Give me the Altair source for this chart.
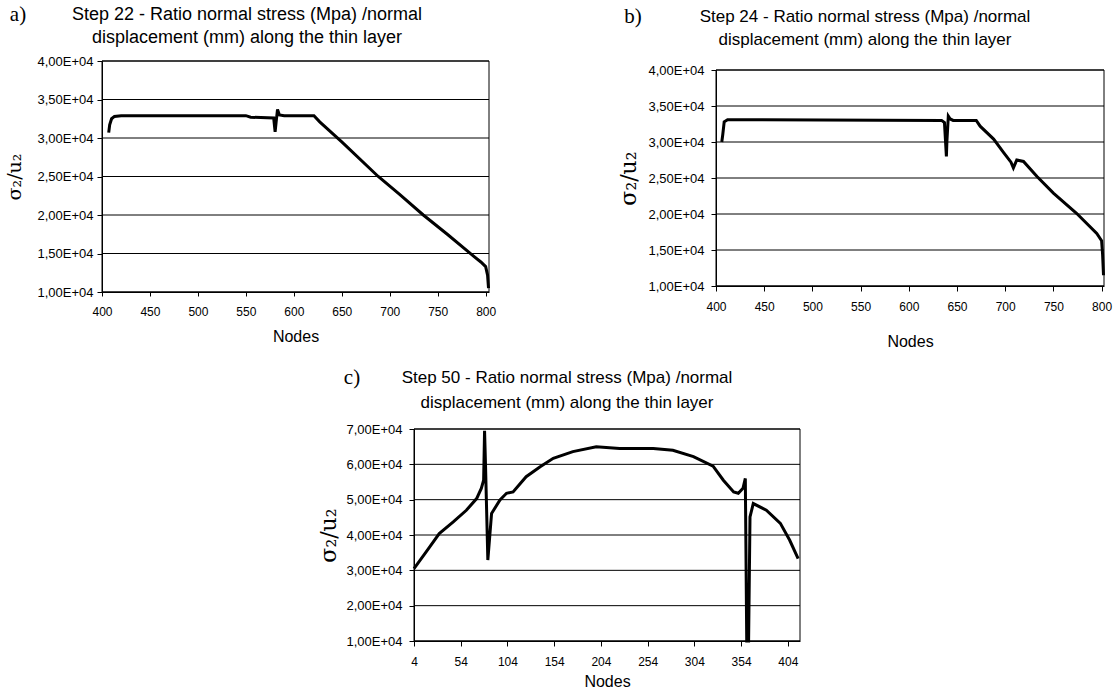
import altair as alt
import pandas as pd

# ---------------- data ----------------
a_nodes = [407, 408, 410, 413, 420, 550, 555, 579, 580.5, 581.5, 583, 585, 590, 621, 627,
           650, 688, 710, 735, 760, 788, 795, 800, 802, 803]
a_vals = [30700, 31700, 32500, 32800, 32900, 32900, 32700, 32600, 30800, 32000, 33700, 33000,
          32900, 32900, 32100, 29500, 25000, 22700, 20000, 17500, 14600, 13900, 13300, 12200, 10500]

b_nodes = [406, 407, 408.5, 412, 420, 634, 637, 639, 639.5, 641, 643, 646, 670, 674, 688, 698,
           706, 708.5, 712, 719, 733, 750, 774, 795, 800, 801, 802]
b_vals = [30000, 31000, 32800, 33100, 33100, 33000, 32700, 28000, 30000, 33600, 33200, 33000,
          33000, 32200, 30400, 28600, 27200, 26400, 27500, 27300, 25200, 22900, 20100, 17300,
          16300, 14500, 11500]

c_nodes = [4, 17, 31, 46, 60, 71, 76, 78.5, 79.5, 80.5, 83, 87, 96, 103, 110, 124, 139, 153,
           174, 199, 224, 260, 281, 303, 324, 335, 346, 351, 356, 358.5, 360, 362, 363.5, 367,
           381, 396, 406, 415]
c_vals = [30500, 35200, 40400, 43700, 47000, 50300, 53200, 55500, 69500, 60000, 32900, 46100,
          49900, 51800, 52200, 56500, 59300, 61700, 63600, 65000, 64500, 64500, 64000, 62200,
          59500, 55500, 52200, 51800, 53200, 56000, 10000, 10000, 45100, 48900, 47000, 43300,
          38500, 33300]

ab_xdomain = [400, 803.5]
b_xdomain = [400, 802.5]
c_xdomain = [4, 417]
ab_ydomain = [10000, 40000]
c_ydomain = [10000, 70000]
ab_xticks = [400, 450, 500, 550, 600, 650, 700, 750, 800]
c_xticks = [4, 54, 104, 154, 204, 254, 304, 354, 404]
ab_yticks = [10000, 15000, 20000, 25000, 30000, 35000, 40000]
c_yticks = [10000, 20000, 30000, 40000, 50000, 60000, 70000]

titles = {
    "a": ["Step 22 -  Ratio normal stress (Mpa) /normal", "displacement (mm) along the thin layer"],
    "b": ["Step 24 - Ratio normal stress (Mpa) /normal", "displacement (mm)  along the thin layer"],
    "c": ["Step 50 - Ratio normal stress (Mpa) /normal", "displacement (mm)  along the thin layer"],
}
letters = {"a": "a)", "b": "b)", "c": "c)"}

W, H = 1115, 696
SANS = "Liberation Sans"
SERIF = "DejaVu Serif"
YLAB = "replace(format(datum.value/10000,'.2f'),'.',',')+'E+04'"


def text_at(txt, x, y, size, font=SANS):
    return alt.Chart(pd.DataFrame({"t": [txt]})).mark_text(
        font=font, fontSize=size, align="center", baseline="middle", color="black"
    ).encode(text="t:N", x=alt.value(x), y=alt.value(y))


def panel(nodes, vals, xdom, xrange, ydom, yrange, xticks, yticks,
          y_pad, y_tfs, y_tpad, x_tick, x_pad, x_lfs, x_tpad):
    xs = alt.Scale(domain=xdom, range=xrange, nice=False, zero=False)
    ys = alt.Scale(domain=ydom, range=yrange, nice=False, zero=False)
    xaxis = alt.Axis(values=xticks, title="Nodes", grid=False, orient="bottom",
                     offset=-(H - yrange[0]), tickSize=x_tick,
                     labelPadding=x_pad, labelFontSize=x_lfs, labelFont=SANS,
                     labelFlush=False, labelOverlap=False,
                     titleFont=SANS, titleFontSize=16, titleFontWeight="normal",
                     titlePadding=x_tpad, format="d")
    yaxis = alt.Axis(values=yticks, title="σ₂/u₂", grid=False, orient="left",
                     offset=-xrange[0], tickSize=5,
                     labelPadding=y_pad, labelFontSize=13, labelFont=SANS,
                     labelFlush=False, labelOverlap=False, labelExpr=YLAB,
                     titleFont=SERIF, titleFontSize=y_tfs, titleFontWeight="normal",
                     titlePadding=y_tpad)
    df = pd.DataFrame({"node": nodes, "val": vals})
    grid = alt.Chart(pd.DataFrame({"v": yticks})).mark_rule(color="black", strokeWidth=1).encode(
        y=alt.Y("v:Q", scale=ys, axis=yaxis),
        x=alt.XDatum(xdom[0], type="quantitative", scale=xs, axis=xaxis),
        x2=alt.X2Datum(xdom[1]),
    )
    frame = alt.Chart(pd.DataFrame({"v": [0]})).mark_rect(
        fillOpacity=0, stroke="black", strokeWidth=1
    ).encode(
        x=alt.XDatum(xdom[0], type="quantitative", scale=xs, axis=xaxis),
        x2=alt.X2Datum(xdom[1]),
        y=alt.YDatum(ydom[0], type="quantitative", scale=ys, axis=yaxis),
        y2=alt.Y2Datum(ydom[1]),
    )
    line = alt.Chart(df).mark_line(color="black", strokeWidth=3).encode(
        x=alt.X("node:Q", scale=xs, axis=xaxis),
        y=alt.Y("val:Q", scale=ys, axis=yaxis),
    )
    return alt.layer(grid, frame, line)


pa = panel(a_nodes, a_vals, ab_xdomain, [102, 489], ab_ydomain, [292, 61], ab_xticks, ab_yticks,
           4, 19, 12, 4, 10, 12, 11)
pb = panel(b_nodes, b_vals, b_xdomain, [716, 1104], ab_ydomain, [286, 70], ab_xticks, ab_yticks,
           7, 22, 7, 5, 10, 12, 21)
pc = panel(c_nodes, c_vals, c_xdomain, [414, 800], c_ydomain, [641, 429], c_xticks, c_yticks,
           7, 22, 5, 5, 10, 12, 6)

texts = [
    text_at(titles["a"][0], 247, 15, 18), text_at(titles["a"][1], 247, 38, 18),
    text_at(letters["a"], 18, 15, 21, font="Liberation Serif"),
    text_at(titles["b"][0], 865, 17, 17), text_at(titles["b"][1], 865, 40, 17),
    text_at(letters["b"], 633, 17, 21, font="Liberation Serif"),
    text_at(titles["c"][0], 567, 378, 17), text_at(titles["c"][1], 567, 403, 17),
    text_at(letters["c"], 352, 378, 21, font="Liberation Serif"),
]

chart = alt.layer(pa, pb, pc, *texts).resolve_scale(
    x="independent", y="independent"
).resolve_axis(
    x="independent", y="independent"
).properties(
    width=W, height=H,
    autosize=alt.AutoSizeParams(type="none"),
    padding=0,
    background="white",
).configure_axis(
    domainColor="black", tickColor="black", labelColor="black",
    titleColor="black", domainWidth=1, tickWidth=1,
).configure_view(stroke="transparent")

chart.save("out.html", embed_options={"renderer": "svg", "actions": False})
